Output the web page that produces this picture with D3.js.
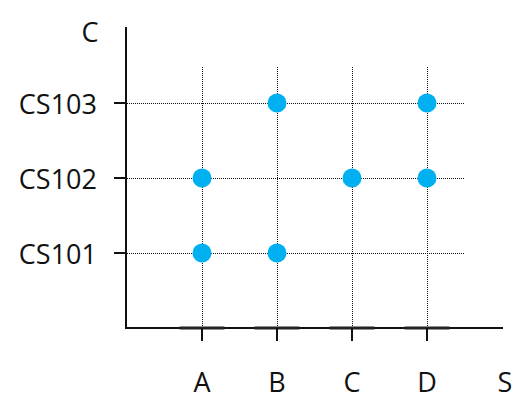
<!DOCTYPE html>
<html><head><meta charset="utf-8">
<script src="https://cdn.jsdelivr.net/npm/d3@7"></script>
<style>body{margin:0;background:#fff}text{font-family:"Open Sans",sans-serif;fill:#111}</style>
</head><body><svg id="c" width="529" height="414"></svg>
<script>
const xCats = ["A","B","C","D"];
const yCats = ["CS101","CS102","CS103"];
const points = [
  {x:"A", y:"CS101"}, {x:"B", y:"CS101"},
  {x:"A", y:"CS102"}, {x:"C", y:"CS102"}, {x:"D", y:"CS102"},
  {x:"B", y:"CS103"}, {x:"D", y:"CS103"}
];
const xTitle = "S", yTitle = "C";

const svg = d3.select("#c");
const x = d3.scalePoint().domain(xCats).range([127, 502]).padding(1);
const y = d3.scalePoint().domain(yCats).range([328, 28]).padding(1);
const step = x.step();

// grid
const g = svg.append("g").attr("shape-rendering","crispEdges");
g.selectAll(".hg").data(yCats).join("line")
  .attr("x1", 127).attr("x2", x(xCats[xCats.length-1]) + step/2)
  .attr("y1", d => y(d) + 0.5).attr("y2", d => y(d) + 0.5)
  .attr("stroke", "#111").attr("stroke-width", 1).attr("stroke-dasharray", "1,1");
g.selectAll(".vg").data(xCats).join("line")
  .attr("x1", d => x(d) + 0.5).attr("x2", d => x(d) + 0.5)
  .attr("y1", 328).attr("y2", y(yCats[yCats.length-1]) - step/2)
  .attr("stroke", "#111").attr("stroke-width", 1).attr("stroke-dasharray", "1,1");

// axes lines
svg.append("line").attr("x1",126).attr("x2",126).attr("y1",27).attr("y2",329).attr("stroke","#111").attr("stroke-width",2);
svg.append("line").attr("x1",125).attr("x2",503).attr("y1",328).attr("y2",328).attr("stroke","#111").attr("stroke-width",2);
// dark segments on x axis
svg.selectAll(".seg").data(xCats).join("line")
  .attr("x1", d => x(d) - 22.5).attr("x2", d => x(d) + 22.5)
  .attr("y1", 328).attr("y2", 328).attr("stroke", "#222").attr("stroke-width", 3);
// ticks
svg.selectAll(".xt").data(xCats).join("line")
  .attr("x1", d => x(d)).attr("x2", d => x(d)).attr("y1", 328).attr("y2", 341)
  .attr("stroke", "#111").attr("stroke-width", 2);
svg.selectAll(".yt").data(yCats).join("line")
  .attr("x1", 114).attr("x2", 127).attr("y1", d => y(d)).attr("y2", d => y(d))
  .attr("stroke", "#111").attr("stroke-width", 2);

// labels
const fs = 27;
svg.selectAll(".xl").data(xCats).join("text")
  .attr("x", d => x(d)).attr("y", 381).attr("text-anchor","middle").attr("dominant-baseline","central")
  .attr("font-size", fs).text(d => d);
svg.selectAll(".yl").data(yCats).join("text")
  .attr("x", 97).attr("y", d => y(d)).attr("text-anchor","end").attr("dominant-baseline","central")
  .attr("font-size", fs).text(d => d);
svg.append("text").attr("x", 90).attr("y", 31).attr("text-anchor","middle").attr("dominant-baseline","central").attr("font-size",fs).text(yTitle);
svg.append("text").attr("x", 505).attr("y", 381).attr("text-anchor","middle").attr("dominant-baseline","central").attr("font-size",fs).text(xTitle);

// points
svg.selectAll(".pt").data(points).join("circle")
  .attr("cx", d => x(d.x)).attr("cy", d => y(d.y)).attr("r", 9.5).attr("fill", "#00b0f0");
</script></body></html>
